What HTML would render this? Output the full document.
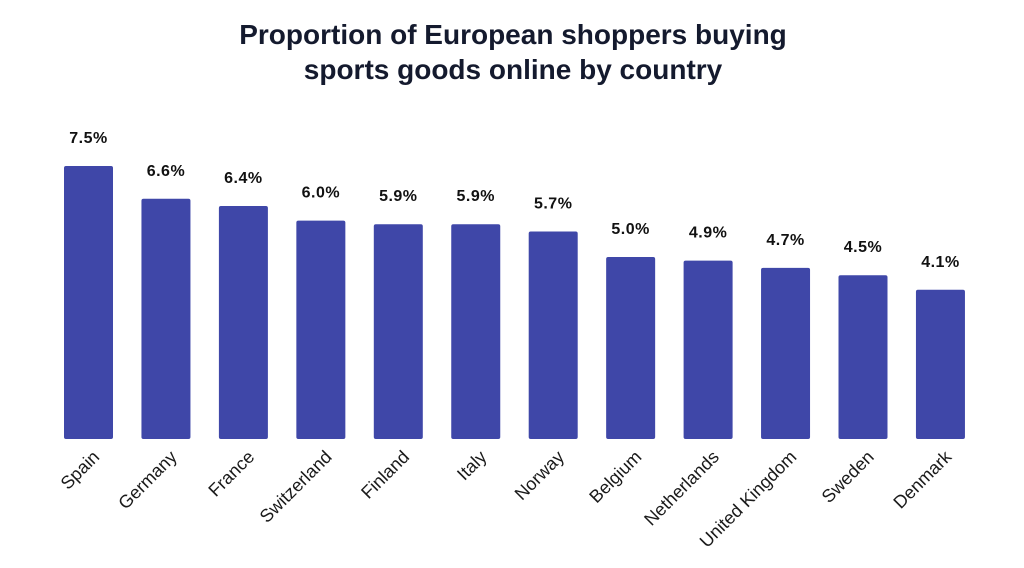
<!DOCTYPE html>
<html><head><meta charset="utf-8"><style>
html,body{margin:0;padding:0;background:#fff;}
svg{display:block;}
</style></head><body>
<svg width="1024" height="568" viewBox="0 0 1024 568" xmlns="http://www.w3.org/2000/svg">
<rect width="1024" height="568" fill="#fff"/>
<g font-family="Liberation Sans, sans-serif" font-weight="bold" font-size="28" fill="#141a2e" text-anchor="middle">
<text x="513" y="44">Proportion of European shoppers buying</text>
<text x="513" y="79">sports goods online by country</text>
</g>
<g fill="#3f47a8">
<rect x="64" y="166" width="49" height="273" rx="2"/>
<rect x="141.45" y="198.76" width="49" height="240.24" rx="2"/>
<rect x="218.9" y="206.04" width="49" height="232.96" rx="2"/>
<rect x="296.35" y="220.6" width="49" height="218.4" rx="2"/>
<rect x="373.8" y="224.24" width="49" height="214.76" rx="2"/>
<rect x="451.25" y="224.24" width="49" height="214.76" rx="2"/>
<rect x="528.7" y="231.52" width="49" height="207.48" rx="2"/>
<rect x="606.15" y="257" width="49" height="182" rx="2"/>
<rect x="683.6" y="260.64" width="49" height="178.36" rx="2"/>
<rect x="761.05" y="267.92" width="49" height="171.08" rx="2"/>
<rect x="838.5" y="275.2" width="49" height="163.8" rx="2"/>
<rect x="915.95" y="289.76" width="49" height="149.24" rx="2"/>
</g>
<g font-family="Liberation Sans, sans-serif" font-weight="bold" font-size="16" letter-spacing="0.5" fill="#111" text-anchor="middle">
<text x="88.5" y="143">7.5%</text>
<text x="165.95" y="175.8">6.6%</text>
<text x="243.4" y="183">6.4%</text>
<text x="320.85" y="197.6">6.0%</text>
<text x="398.3" y="201.2">5.9%</text>
<text x="475.75" y="201.2">5.9%</text>
<text x="553.2" y="208.5">5.7%</text>
<text x="630.65" y="234">5.0%</text>
<text x="708.1" y="237.6">4.9%</text>
<text x="785.55" y="244.9">4.7%</text>
<text x="863" y="252.2">4.5%</text>
<text x="940.45" y="266.8">4.1%</text>
</g>
<g font-family="Liberation Sans, sans-serif" font-size="18" fill="#1a1a1a" text-anchor="end">
<text transform="translate(100.5,458) rotate(-45)">Spain</text>
<text transform="translate(177.95,458) rotate(-45)">Germany</text>
<text transform="translate(255.4,458) rotate(-45)">France</text>
<text transform="translate(332.85,458) rotate(-45)">Switzerland</text>
<text transform="translate(410.3,458) rotate(-45)">Finland</text>
<text transform="translate(487.75,458) rotate(-45)">Italy</text>
<text transform="translate(565.2,458) rotate(-45)">Norway</text>
<text transform="translate(642.65,458) rotate(-45)">Belgium</text>
<text transform="translate(720.1,458) rotate(-45)">Netherlands</text>
<text transform="translate(797.55,458) rotate(-45)">United Kingdom</text>
<text transform="translate(875,458) rotate(-45)">Sweden</text>
<text transform="translate(952.45,458) rotate(-45)">Denmark</text>
</g>
</svg>
</body></html>
